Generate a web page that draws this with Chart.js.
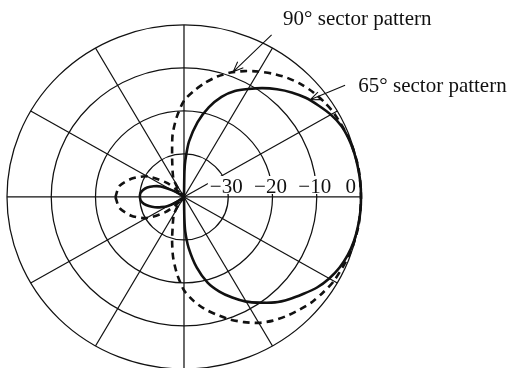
<!DOCTYPE html>
<html>
<head>
<meta charset="utf-8">
<script src="https://cdn.jsdelivr.net/npm/chart.js@4/dist/chart.umd.min.js"></script>
<style>
  html, body { margin: 0; padding: 0; background: #fff; }
  #wrap { width: 508px; height: 368px; }
</style>
</head>
<body>
<div id="wrap"><canvas id="polar" width="508" height="368"></canvas></div>
<script>
// azimuth in degrees (counter-clockwise from boresight), level in dB
const angles65 = [-180, -175, -170, -165, -160, -155, -150, -145, -140, -90, -89, -88, -85, -80, -75, -70, -65, -60, -55, -50, -45, -40, -35, -30, -25, -20, -15, -10, -5, 0, 5, 10, 15, 20, 25, 30, 35, 40, 45, 50, 55, 60, 65, 70, 75, 80, 85, 88, 89, 90, 140, 145, 150, 155, 160, 165, 170, 175, 180];
const levels65 = [-30, -30.2, -30.8, -31.8, -33.0, -34.4, -35.8, -37.8, -40, -40, -35, -32, -28.2, -23.3, -19.4, -16.6, -14.2, -11.9, -10.0, -8.0, -6.4, -4.9, -3.3, -2.1, -1.2, -0.6, -0.25, -0.1, 0, 0, 0, -0.1, -0.2, -0.4, -0.8, -1.7, -2.9, -4.1, -5.6, -7.3, -9.1, -11.0, -12.8, -15.2, -18.4, -22.3, -27.1, -31.5, -34, -40, -40, -38.5, -36.8, -34.2, -32.7, -31.4, -30.6, -30.1, -30];

const angles90 = [-180, -170, -160, -150, -140, -135, -130, -125, -120, -115, -110, -105, -100, -95, -90, -85, -80, -75, -70, -65, -60, -55, -50, -45, -40, -35, -30, -20, -10, 0, 10, 20, 30, 35, 40, 45, 50, 55, 60, 65, 70, 75, 80, 85, 90, 95, 100, 105, 110, 115, 120, 125, 130, 135, 140, 150, 160, 170, 180];
const levels90 = [-24.5, -25.2, -27.3, -30.2, -34.5, -37.5, -40, -38, -35.5, -34.2, -32.5, -29.6, -25.8, -22.0, -18.3, -15.8, -13.6, -11.7, -9.7, -7.9, -6.2, -4.9, -3.9, -3.0, -2.1, -1.5, -0.9, -0.3, 0, 0, 0, -0.3, -0.9, -1.4, -2.0, -2.8, -3.8, -5.0, -6.3, -7.7, -9.2, -11.0, -13.1, -15.3, -17.6, -21.3, -25.2, -29.6, -32.3, -34.0, -35.3, -37.8, -40, -37.5, -34.8, -30.4, -27.5, -25.2, -24.5];

const ringTicks = [-30, -20, -10, 0];
const tickLabels = ['\u221230', '\u221220', '\u221210', '0'];
const spokeAngles = [0, 30, 60, 90, 120, 150];
const floorDb = -40;

const notes = [
    { text: '90\u00b0 sector pattern', at: [22.4, 40.0], from: [19.8, 37.7], to: [11.1, 29.1] },
    { text: '65\u00b0 sector pattern', at: [39.4, 24.3], from: [36.4, 26.0], to: [28.5, 22.6] }
];

const serif = '21px "Liberation Serif", "Times New Roman", serif';
const ink = '#111';

function toXY(deg, db) {
    const r = Math.max(db, floorDb) - floorDb;
    const a = deg * Math.PI / 180;
    return { x: r * Math.cos(a), y: r * Math.sin(a) };
}

const polarGrid = {
    id: 'polarGrid',
    beforeDatasetsDraw(chart) {
        const { ctx, scales: { x, y } } = chart;
        const cx = x.getPixelForValue(0), cy = y.getPixelForValue(0);
        ctx.save();
        ctx.strokeStyle = ink;
        ctx.lineWidth = 1.25;
        ringTicks.forEach(v => {
            const r = v - floorDb;
            ctx.beginPath();
            ctx.ellipse(cx, cy, x.getPixelForValue(r) - cx, cy - y.getPixelForValue(r), 0, 0, Math.PI * 2);
            ctx.stroke();
        });
        spokeAngles.forEach(deg => {
            const p = toXY(deg, 0), q = toXY(deg + 180, 0);
            ctx.beginPath();
            ctx.moveTo(x.getPixelForValue(p.x), y.getPixelForValue(p.y));
            ctx.lineTo(x.getPixelForValue(q.x), y.getPixelForValue(q.y));
            ctx.stroke();
        });
        ctx.restore();
    },
    afterDatasetsDraw(chart) {
        const { ctx, scales: { x, y } } = chart;
        const cy = y.getPixelForValue(0);
        const edge = x.getPixelForValue(0 - floorDb);
        ctx.save();
        ctx.font = serif;
        ctx.textBaseline = 'alphabetic';
        ctx.textAlign = 'center';
        // tick labels sit just above the 0 deg spoke, on a white backdrop
        ringTicks.forEach((v, i) => {
            const w = ctx.measureText(tickLabels[i]).width;
            let px = x.getPixelForValue(v - floorDb) - 2;
            px = Math.min(px, edge - 5 - w / 2);
            ctx.fillStyle = '#fff';
            ctx.fillRect(px - w / 2 - 2, cy - 21, w + 4, 18);
            ctx.fillStyle = ink;
            ctx.fillText(tickLabels[i], px, cy - 4);
        });
        // callouts
        ctx.textAlign = 'left';
        ctx.strokeStyle = ink;
        ctx.lineWidth = 1.1;
        notes.forEach(n => {
            ctx.fillText(n.text, x.getPixelForValue(n.at[0]), y.getPixelForValue(n.at[1]));
            const x0 = x.getPixelForValue(n.from[0]), y0 = y.getPixelForValue(n.from[1]);
            const x1 = x.getPixelForValue(n.to[0]), y1 = y.getPixelForValue(n.to[1]);
            const ang = Math.atan2(y1 - y0, x1 - x0);
            ctx.beginPath();
            ctx.moveTo(x0, y0);
            ctx.lineTo(x1, y1);
            [0.38, -0.38].forEach(d => {
                ctx.moveTo(x1, y1);
                ctx.lineTo(x1 - 11 * Math.cos(ang + d), y1 - 11 * Math.sin(ang + d));
            });
            ctx.stroke();
        });
        ctx.restore();
    }
};

new Chart(document.getElementById('polar'), {
    type: 'scatter',
    data: {
        datasets: [
            {
                label: '65\u00b0 sector pattern',
                data: angles65.map((a, i) => toXY(a, levels65[i])),
                showLine: true,
                borderColor: ink,
                borderWidth: 2.6,
                pointRadius: 0,
                tension: 0.25
            },
            {
                label: '90\u00b0 sector pattern',
                data: angles90.map((a, i) => toXY(a, levels90[i])),
                showLine: true,
                borderColor: ink,
                borderWidth: 2.6,
                borderDash: [7, 5],
                pointRadius: 0,
                tension: 0.25
            }
        ]
    },
    options: {
        responsive: false,
        animation: false,
        layout: { padding: 0 },
        plugins: { legend: { display: false }, tooltip: { enabled: false } },
        scales: {
            x: { type: 'linear', display: false, min: -41.58, max: 73.22 },
            y: { type: 'linear', display: false, min: -39.77, max: 45.81 }
        }
    },
    plugins: [polarGrid]
});
</script>
</body>
</html>
